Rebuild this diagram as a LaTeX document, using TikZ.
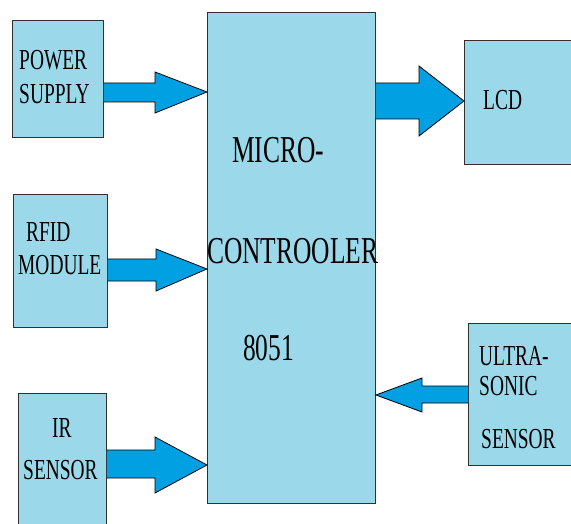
\documentclass[tikz,border=0pt]{standalone}
\usepackage{fontspec}
\setmainfont{Liberation Serif}
\newfontfamily\condfont[FakeStretch=0.67]{Liberation Serif}
\definecolor{boxfill}{HTML}{9BD9EA}
\definecolor{arrowfill}{HTML}{00A0E2}
\definecolor{edge}{HTML}{303030}
\tikzset{
  box/.style={draw=edge, fill=boxfill, line width=0.9pt, inner sep=0pt, anchor=north west},
  blockarrow/.style={draw=black, fill=arrowfill, line width=0.8pt, line join=miter},
  lbl/.style={anchor=base west, inner sep=0pt, font=\condfont\fontsize{29}{30}\selectfont},
  biglbl/.style={anchor=base west, inner sep=0pt, font=\condfont\fontsize{38}{40}\selectfont}
}
\begin{document}
\begin{tikzpicture}[x=1pt, y=-1pt]
\clip (0,0) rectangle (571,524);
\fill[white] (0,0) rectangle (571,524);
% boxes
\node[box, minimum width=168pt, minimum height=491pt] (mcu) at (207,12) {};
\node[box, minimum width=91pt, minimum height=117pt] (ps) at (12,20) {};
\node[box, minimum width=94pt, minimum height=133pt] (rfid) at (13,194) {};
\node[box, minimum width=88pt, minimum height=150pt] (ir) at (18,393) {};
\node[box, minimum width=130pt, minimum height=124pt] (lcd) at (464,40) {};
\node[box, minimum width=130pt, minimum height=142pt] (us) at (468,323) {};
% labels
\node[lbl] (t1) at (19,70) {POWER};
\node[lbl] (t2) at (19,104) {SUPPLY};
\node[lbl] (t3) at (26,242) {RFID};
\node[lbl] (t4) at (18,275) {MODULE};
\node[lbl] (t5) at (52,437) {IR};
\node[lbl] (t6) at (23,479) {SENSOR};
\node[lbl] (t7) at (483,110) {LCD};
\node[lbl] (t8) at (479,365) {ULTRA-};
\node[lbl] (t9) at (479,395) {SONIC};
\node[lbl] (t10) at (481,448) {SENSOR};
\node[biglbl] (t11) at (232,163) {MICRO-};
\node[biglbl] (t12) at (207,263) {CONTROOLER};
\node[biglbl] (t13) at (243,360) {8051};
% block arrows
\draw[blockarrow] (ps.east |- 0,83) -- (155,83) -- (155,72) -- (mcu.west |- 0,92)
  -- (155,113) -- (155,102) -- (ps.east |- 0,102);
\draw[blockarrow] (rfid.east |- 0,259) -- (156,259) -- (156,249) -- (mcu.west |- 0,269)
  -- (156,291) -- (156,281) -- (rfid.east |- 0,281);
\draw[blockarrow] (ir.east |- 0,450) -- (155,450) -- (155,437) -- (mcu.west |- 0,465)
  -- (155,493) -- (155,478) -- (ir.east |- 0,478);
\draw[blockarrow] (mcu.east |- 0,83) -- (419,83) -- (419,66) -- (lcd.west |- 0,101)
  -- (419,136) -- (419,119) -- (mcu.east |- 0,119);
\draw[blockarrow] (us.west |- 0,386) -- (422,386) -- (422,378) -- (mcu.east |- 0,395)
  -- (422,412) -- (422,403) -- (us.west |- 0,403);
\end{tikzpicture}
\end{document}
